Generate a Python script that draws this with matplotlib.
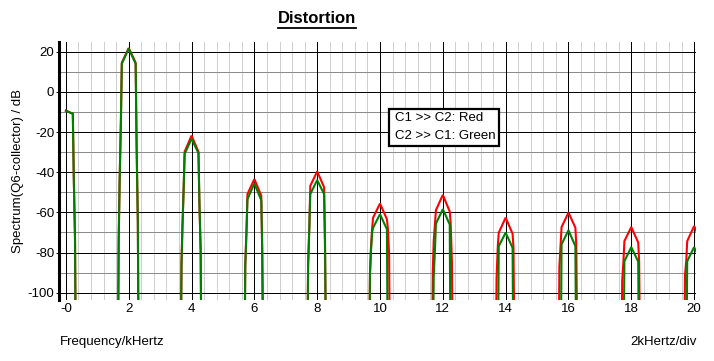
import numpy as np
import matplotlib
matplotlib.use("Agg")
import matplotlib.pyplot as plt
from matplotlib.patches import Rectangle
from matplotlib.lines import Line2D

plt.rcParams['font.family'] = ['Liberation Sans', 'DejaVu Sans']
plt.rcParams['axes.unicode_minus'] = False

nan = np.nan

# harmonic centres (kHz) and the sample offsets around each one
harmonics = [0, 2, 4, 6, 8, 10, 12, 14, 16, 18, 20]
offsets = [-0.35, -0.32, -0.29, -0.25, -0.22, 0.0, 0.22, 0.25, 0.29, 0.32, 0.35]

# spectrum values (dB), one row per harmonic
red_db = [
    [nan, nan, nan, nan, nan, -9.3, -11.0, -42.0, -73.0, -150, -150],
    [-150, -74.0, -44.0, -15.0, 14.5, 21.8, 14.5, -26.0, -65.0, -150, -150],
    [-150, -85.0, -67.0, -47.0, -29.8, -21.8, -29.8, -56.0, -79.0, -150, -150],
    [-150, -150, -86.0, -68.5, -50.9, -43.4, -51.7, -79.6, -150, -150, -150],
    [-150, -150, -87.0, -68.0, -46.8, -39.6, -47.5, -78.4, -150, -150, -150],
    [-150, -90.8, -78.0, -67.6, -62.6, -55.6, -63.4, -68.0, -81.0, -150, -150],
    [-150, -89.0, -74.0, -65.6, -58.9, -51.3, -59.6, -65.6, -85.0, -150, -150],
    [-150, -150, -93.0, -76.8, -70.1, -62.6, -70.6, -77.6, -150, -150, -150],
    [-150, -150, -87.0, -76.0, -67.3, -60.1, -67.6, -76.8, -150, -150, -150],
    [-150, -150, -94.0, -84.3, -74.3, -67.3, -75.0, -84.5, -150, -150, -150],
    [-150, -150, -91.0, -84.0, -74.3, -66.8, -74.3, -84.0, -150, -150, -150],
]
green_db = [
    [nan, nan, nan, nan, nan, -9.5, -10.8, -42.3, -73.4, -150, -150],
    [-150, -74.7, -45.0, -16.0, 14.0, 21.5, 14.0, -26.0, -65.0, -150, -150],
    [-150, -85.8, -67.6, -47.6, -30.9, -23.4, -30.5, -54.0, -79.0, -150, -150],
    [-150, -150, -86.8, -69.3, -53.4, -45.6, -54.0, -78.4, -150, -150, -150],
    [-150, -150, -86.0, -66.8, -50.9, -43.9, -50.9, -75.9, -150, -150, -150],
    [-150, -91.0, -80.0, -70.0, -67.6, -60.9, -68.4, -150, -150, -150, -150],
    [-150, -150, -91.8, -78.4, -65.6, -58.4, -66.0, -150, -150, -150, -150],
    [-150, -150, -150, -150, -76.8, -70.1, -77.6, -150, -150, -150, -150],
    [-150, -150, -150, -150, -75.9, -68.9, -76.8, -150, -150, -150, -150],
    [-150, -150, -150, -150, -84.3, -77.3, -84.5, -150, -150, -150, -150],
    [-150, -150, -150, -150, -84.3, -77.3, -84.3, -150, -150, -150, -150],
]

x_ticks = [0, 2, 4, 6, 8, 10, 12, 14, 16, 18, 20]
x_labels = ['-0', '2', '4', '6', '8', '10', '12', '14', '16', '18', '20']
y_ticks = [20, 0, -20, -40, -60, -80, -100]

freq = np.concatenate([h + np.array(offsets) for h in harmonics])
red = np.concatenate(red_db)
green = np.concatenate(green_db)

fig = plt.figure(figsize=(7.14, 3.61), dpi=100)
ax = fig.add_axes([59/714, 1 - 300/361, (696 - 59)/714, (300 - 42)/361])

# grid drawn by hand so minor x and minor y can look different
minor_x = [v for v in np.arange(0.4, 20.01, 0.4) if abs(v / 2 - round(v / 2)) > 1e-6]
minor_y = np.arange(-90, 20, 20)
ax.vlines(minor_x, 0, 1, transform=ax.get_xaxis_transform(), colors='#cfcfcf', lw=0.72,
          antialiased=False, zorder=0.5)
ax.hlines(minor_y, 0, 1, transform=ax.get_yaxis_transform(), colors='#8c8c8c', lw=0.72,
          linestyles=[(0, (1, 1))], antialiased=False, zorder=0.6)
ax.vlines(x_ticks, 0, 1, transform=ax.get_xaxis_transform(), colors='black', lw=0.72,
          antialiased=False, zorder=1)
ax.hlines(y_ticks, 0, 1, transform=ax.get_yaxis_transform(), colors='black', lw=0.72,
          antialiased=False, zorder=1)

ax.plot(freq, red, color='#ff0000', lw=1.5, solid_joinstyle='miter', zorder=3)
ax.plot(freq, green, color='#008000', lw=1.5, solid_joinstyle='miter', zorder=4)

ax.set_xlim(-0.22, 20.06)
ax.set_ylim(-103.6, 24.8)

ax.set_xticks(x_ticks)
ax.set_xticklabels(x_labels)
ax.set_yticks(y_ticks)

for s in ['top', 'right', 'bottom']:
    ax.spines[s].set_visible(False)
ax.spines['left'].set_linewidth(2.2)

ax.tick_params(axis='x', length=0, pad=2, labelsize=9.5)
ax.tick_params(axis='y', length=2.5, width=0.72, pad=1, labelsize=9.5)

# title, underlined
t = fig.text(317/714, 1 - 18.5/361, 'Distortion', ha='center', va='center',
             fontsize=12, fontweight='bold')
fig.canvas.draw()
bb = t.get_window_extent()
W, H = fig.bbox.width, fig.bbox.height
uy = (bb.y0 - 1.5) / H
fig.add_artist(Line2D([bb.x0 / W, bb.x1 / W], [uy, uy], color='black', lw=1.3,
                      transform=fig.transFigure))

fig.text(18/714, 1 - 171/361, 'Spectrum(Q6-collector) / dB', rotation=90,
         ha='center', va='center', fontsize=9.5)
fig.text(60/714, 1 - 342/361, 'Frequency/kHertz', ha='left', va='center', fontsize=9.5)
fig.text(697/714, 1 - 342/361, '2kHertz/div', ha='right', va='center', fontsize=9.5)

# legend box
fig.add_artist(Rectangle((389.5/714, 1 - 145.5/361), 110/714, 37/361,
                         facecolor='white', edgecolor='black', lw=1.6,
                         transform=fig.transFigure, zorder=5))
fig.text(395/714, 1 - 118/361, 'C1 >> C2: Red', ha='left', va='center',
         fontsize=9.5, zorder=6)
fig.text(395/714, 1 - 135.5/361, 'C2 >> C1: Green', ha='left', va='center',
         fontsize=9.5, zorder=6)

fig.savefig('out.png', dpi=100)
